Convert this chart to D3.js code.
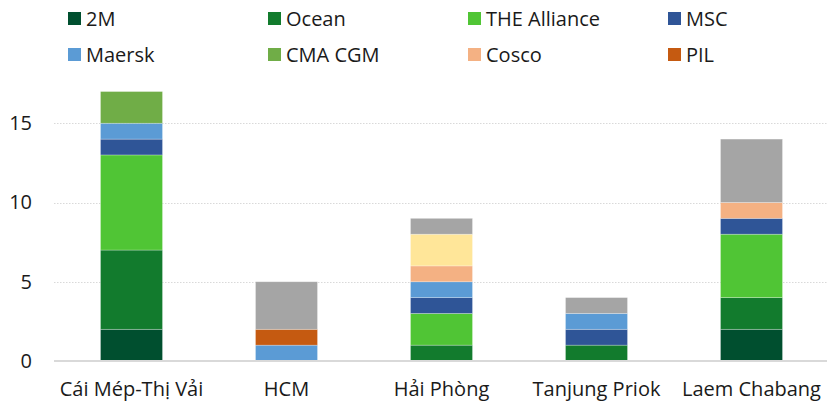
<!DOCTYPE html>
<html>
<head>
<meta charset="utf-8">
<style>
  body { margin: 0; background: #fff; font-family: "Segoe UI", "Open Sans", "Noto Sans", sans-serif; }
  svg { display: block; }
</style>
<script src="https://d3js.org/d3.v7.min.js"></script>
</head>
<body>
<svg id="chart"></svg>
<script>
  // ports on the x axis
  const ports = ["Cái Mép-Thị Vải", "HCM", "Hải Phòng", "Tanjung Priok", "Laem Chabang"];

  // series, stacked bottom to top (the last two have no legend entry in the source)
  const seriesNames = ["2M", "Ocean", "THE Alliance", "MSC", "Maersk", "CMA CGM", "Cosco", "PIL", "Other A", "Other B"];
  const legendNames = ["2M", "Ocean", "THE Alliance", "MSC", "Maersk", "CMA CGM", "Cosco", "PIL"];
  const seriesColors = ["#004f2f", "#127b2d", "#50c535", "#2f5597", "#5b9bd5", "#70ad47", "#f4b183", "#c55a11", "#ffe699", "#a5a5a5"];

  // values per port, one array per series
  const v2M          = [2, 0, 0, 0, 2];
  const vOcean       = [5, 0, 1, 1, 2];
  const vTHE         = [6, 0, 2, 0, 4];
  const vMSC         = [1, 0, 1, 1, 1];
  const vMaersk      = [1, 1, 1, 1, 0];
  const vCMA         = [2, 0, 0, 0, 0];
  const vCosco       = [0, 0, 1, 0, 1];
  const vPIL         = [0, 1, 0, 0, 0];
  const vOtherA      = [0, 0, 2, 0, 0];
  const vOtherB      = [0, 3, 1, 1, 4];

  const yTicks = [0, 5, 10, 15];

  const seriesValues = [v2M, vOcean, vTHE, vMSC, vMaersk, vCMA, vCosco, vPIL, vOtherA, vOtherB];

  const table = ports.map((p, i) => {
    let row = { port: p };
    seriesNames.forEach((s, j) => { row[s] = seriesValues[j][i]; });
    return row;
  });

  const width = 827, height = 404;
  const margin = { left: 54, right: -2, top: 44, bottom: 43 };
  const fontSize = 20;

  const svg = d3.select("#chart").attr("width", width).attr("height", height);

  const x = d3.scaleBand()
    .domain(ports)
    .range([margin.left, width - margin.right])
    .paddingInner(0.6)
    .paddingOuter(0.3);

  const y = d3.scaleLinear()
    .domain([0, 20])
    .range([height - margin.bottom, margin.top]);

  const color = d3.scaleOrdinal().domain(seriesNames).range(seriesColors);

  // gridlines
  svg.append("g")
    .selectAll("line")
    .data(yTicks.filter(t => t > 0))
    .join("line")
    .attr("x1", margin.left)
    .attr("x2", width)
    .attr("y1", d => Math.round(y(d)) + 0.5)
    .attr("y2", d => Math.round(y(d)) + 0.5)
    .attr("stroke", "#d9d9d9")
    .attr("stroke-width", 1)
    .attr("stroke-dasharray", "1.5,1.5");

  // stacked bars
  const stack = d3.stack().keys(seriesNames)(table);

  svg.append("g")
    .selectAll("g")
    .data(stack)
    .join("g")
    .attr("fill", d => color(d.key))
    .selectAll("rect")
    .data(d => d.filter(s => s[1] - s[0] > 0))
    .join("rect")
    .attr("x", d => x(d.data.port))
    .attr("width", x.bandwidth())
    .attr("y", d => y(d[1]))
    .attr("height", d => y(d[0]) - y(d[1]))
    .attr("stroke", "#ffffff")
    .attr("stroke-opacity", 0.35)
    .attr("stroke-width", 0.75);

  // y axis labels
  const yAxis = d3.axisLeft(y).tickValues(yTicks).tickSize(0).tickPadding(22);
  const gy = svg.append("g")
    .attr("transform", `translate(${margin.left},0)`)
    .call(yAxis);
  gy.select(".domain").remove();
  gy.selectAll("text")
    .attr("font-size", fontSize)
    .attr("font-family", "'Segoe UI', 'Open Sans', 'Noto Sans', sans-serif")
    .attr("fill", "#1a1a1a");

  // x axis
  const xAxis = d3.axisBottom(x).tickSize(0).tickPadding(21);
  const gx = svg.append("g")
    .attr("transform", `translate(0,${y(0)})`)
    .call(xAxis);
  gx.select(".domain")
    .attr("stroke", "#d9d9d9")
    .attr("stroke-width", 2)
    .attr("d", `M${margin.left},0H${width}`);
  gx.selectAll("text")
    .attr("font-size", fontSize)
    .attr("font-family", "'Segoe UI', 'Open Sans', 'Noto Sans', sans-serif")
    .attr("fill", "#1a1a1a");

  // legend, 4 columns x 2 rows
  const legend = svg.append("g")
    .selectAll("g")
    .data(legendNames)
    .join("g")
    .attr("transform", (d, i) => `translate(${68 + (i % 4) * 200},${12 + Math.floor(i / 4) * 36})`);

  legend.append("rect")
    .attr("width", 13)
    .attr("height", 13)
    .attr("fill", d => color(d));

  legend.append("text")
    .attr("x", 18)
    .attr("y", 7)
    .attr("dy", "0.35em")
    .attr("font-size", fontSize)
    .attr("fill", "#1a1a1a")
    .text(d => d);
</script>
</body>
</html>
